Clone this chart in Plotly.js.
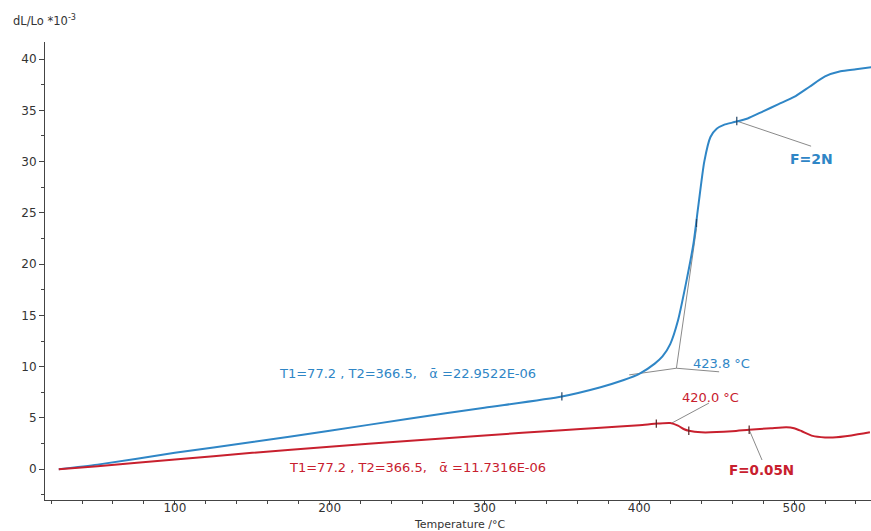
<!DOCTYPE html>
<html><head><meta charset="utf-8">
<script src="https://cdn.plot.ly/plotly-3.0.1.min.js"></script>
<style>html,body{margin:0;padding:0;background:#fff}#chart{width:871px;height:531px}</style>
</head><body><div id="chart"></div>
<script>
// F = 2N curve (blue)
const blueT = [25,50,100,150,200,250,300,350,375,390,400,410,415,420,425,430,435,438,442,446,450,455,460,470,480,490,500,510,520,530,540,550];
const blueY = [0,0.45,1.6,2.65,3.75,4.9,6.0,7.1,8.0,8.7,9.3,10.3,11.0,12.2,14.5,18.0,22.0,25.5,30.0,32.4,33.2,33.6,33.8,34.2,34.9,35.6,36.3,37.3,38.3,38.8,39.0,39.2];
// F = 0.05N curve (red)
const redT = [25,50,100,150,200,250,300,350,375,400,412,420,425,429,432,440,460,471,485,495,500,505,512,520,525,537,549];
const redY = [0,0.3,0.95,1.6,2.2,2.75,3.3,3.8,4.05,4.3,4.45,4.5,4.25,3.9,3.75,3.6,3.7,3.85,4.0,4.1,4.0,3.7,3.25,3.1,3.1,3.3,3.6];
// Marked points on curves
const blueMarkT = [350,437,463];
const blueMarkY = [7.1,24.0,33.95];
const redMarkT = [411,432,471];
const redMarkY = [4.45,3.75,3.85];
// Onset construction lines (F=2N)
const baseTanT = [393.5,424,451.6];
const baseTanY = [9.2,9.85,9.5];
const steepTanT = [424,437];
const steepTanY = [9.85,23.5];
// Leader lines
const blueForceLeadT = [463,511];
const blueForceLeadY = [33.95,31.5];
const redForceLeadT = [471,479.3];
const redForceLeadY = [3.85,0.9];
const redOnsetLeadT = [421,445];
const redOnsetLeadY = [4.5,6.45];
// Labels
const blueLabel = "T1=77.2 , T2=366.5,\u00a0\u00a0\u00a0ᾱ =22.9522E-06";
const redLabel = "T1=77.2 , T2=366.5,\u00a0\u00a0\u00a0ᾱ =11.7316E-06";
const blueOnset = "423.8 °C";
const redOnset = "420.0 °C";
const blueForce = "F=2N";
const redForce = "F=0.05N";
const xTicks = [100,200,300,400,500];
const yTicks = [0,5,10,15,20,25,30,35,40];

const BLUE = "#2f86c6", RED = "#c8202e", GRAY = "#8a8a8a";
const F = "DejaVu Sans, Verdana, sans-serif";

const gl = (x, y) => ({x, y, mode: "lines", line: {color: GRAY, width: 1}, hoverinfo: "skip"});
const traces = [
  gl(baseTanT, baseTanY), gl(steepTanT, steepTanY),
  gl(blueForceLeadT, blueForceLeadY), gl(redForceLeadT, redForceLeadY), gl(redOnsetLeadT, redOnsetLeadY),
  {x: blueT, y: blueY, mode: "lines", line: {color: BLUE, width: 2, shape: "spline", smoothing: 0.6}},
  {x: redT, y: redY, mode: "lines", line: {color: RED, width: 2, shape: "spline", smoothing: 0.6}},
  {x: blueMarkT, y: blueMarkY, mode: "markers", marker: {symbol: "line-ns-open", size: 6, color: "#224466", line: {width: 1.2, color: "#224466"}}},
  {x: redMarkT, y: redMarkY, mode: "markers", marker: {symbol: "line-ns-open", size: 6, color: "#552222", line: {width: 1.2, color: "#552222"}}}
];

const ann = (x, y, text, color, size, bold) => ({x, y, xref: "x", yref: "y", text: bold ? "<b>" + text + "</b>" : text, showarrow: false,
  xanchor: "center", yanchor: "middle", font: {family: F, size, color}});

const layout = {
  width: 871, height: 531,
  margin: {l: 45, r: 0, t: 42, b: 31},
  paper_bgcolor: "#fff", plot_bgcolor: "#fff",
  showlegend: false,
  font: {family: F, size: 12, color: "#333"},
  xaxis: {range: [16.1, 549.7], tickvals: xTicks, ticks: "outside", ticklen: 4, tickcolor: "#444",
    showline: true, linecolor: "#444", linewidth: 1, showgrid: false, zeroline: false,
    ticklabelstandoff: -7,
    tickfont: {family: F, size: 12, color: "#333"},
    minor: {dtick: 20, ticks: "outside", ticklen: 3, tickcolor: "#444", showgrid: false}},
  yaxis: {range: [-3.0, 41.66], tickvals: yTicks, ticks: "outside", ticklen: 5, tickcolor: "#444",
    showline: true, linecolor: "#444", linewidth: 1, showgrid: false, zeroline: false,
    tickfont: {family: F, size: 12, color: "#333"},
    minor: {dtick: 2.5, ticks: "outside", ticklen: 3, tickcolor: "#444", showgrid: false}},
  annotations: [
    {xref: "paper", yref: "paper", x: -0.041, y: 1.048, xanchor: "left", yanchor: "middle", showarrow: false,
     text: "dL/Lo *10<sup>-3</sup>", font: {family: F, size: 11.5, color: "#333"}},
    {xref: "paper", yref: "paper", x: 0.502, y: -0.054, xanchor: "center", yanchor: "middle", showarrow: false,
     text: "Temperature /°C", font: {family: F, size: 11, color: "#333"}},
    ann(250, 9.37, blueLabel, BLUE, 13),
    ann(257, 0.2, redLabel, RED, 13),
    ann(453, 10.3, blueOnset, BLUE, 13),
    ann(446, 7.0, redOnset, RED, 13),
    ann(511, 30.3, blueForce, BLUE, 14, true),
    ann(478.7, -0.1, redForce, RED, 13.5, true)
  ]
};

Plotly.newPlot("chart", traces, layout, {staticPlot: true, displayModeBar: false});
</script>
</body></html>
